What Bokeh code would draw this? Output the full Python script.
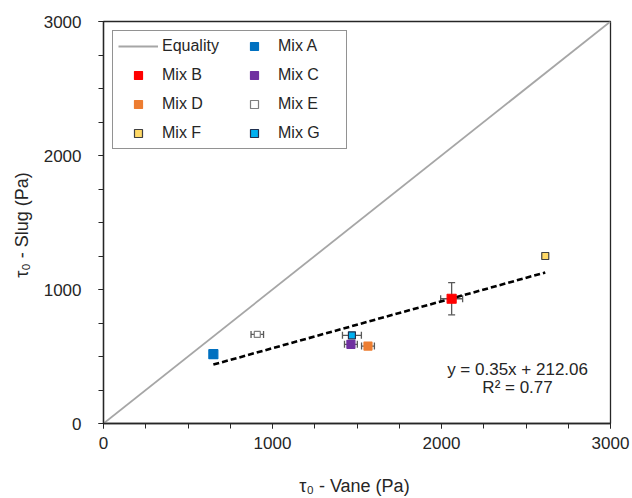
from bokeh.plotting import figure
from bokeh.models import (ColumnDataSource, Range1d, FixedTicker, Whisker, TeeHead,
                          Label, Legend, LegendItem)
from bokeh.embed import file_html
from bokeh.resources import INLINE

# ---- data ----
mixes = ["Mix A", "Mix B", "Mix C", "Mix D", "Mix E", "Mix F", "Mix G"]
vane = [650, 2060, 1464, 1565, 910, 2614, 1470]        # tau0 - Vane (Pa)
slug = [517, 931, 591, 578, 665, 1250, 658]            # tau0 - Slug (Pa)
vane_err = [0, 65, 38, 38, 37, 0, 56]
slug_err = [0, 120, 0, 0, 0, 0, 0]
trend_slope = 0.35
trend_intercept = 212.06
trend_r2 = 0.77
axis_ticks = [0, 1000, 2000, 3000]
axis_max = 3000

# ---- styles ----
fill_colors = ["#0070C0", "#FF0000", "#7030A0", "#ED7D31", "#FFFFFF", "#FFD966", "#00B0F0"]
line_colors = ["#0070C0", "#FF0000", "#7030A0", "#ED7D31", "#7F7F7F", "#404040", "#1F2F4F"]
marker_sizes = [9, 9, 8, 8, 6, 7, 7]

FONT = "Liberation Sans"
TXT = "#262626"

p = figure(width=632, height=498, output_backend="svg", toolbar_location=None,
           x_range=Range1d(0, axis_max), y_range=Range1d(0, axis_max),
           x_axis_label="τ₀  - Vane (Pa)", y_axis_label="τ₀  - Slug (Pa)")
p.min_border_left = 103
p.min_border_right = 22
p.min_border_top = 21
p.min_border_bottom = 72
p.grid.visible = False
p.outline_line_color = "#262626"
p.outline_line_width = 1.3
p.background_fill_color = "white"
p.border_fill_color = "white"

for ax in (p.xaxis[0], p.yaxis[0]):
    ax.ticker = FixedTicker(ticks=axis_ticks, minor_ticks=list(range(0, axis_max + 1, 250)))
    ax.major_tick_in = 0
    ax.major_tick_out = 5
    ax.minor_tick_in = 0
    ax.minor_tick_out = 5
    ax.axis_line_color = "#262626"
    ax.axis_line_width = 1.3
    ax.major_tick_line_color = "#262626"
    ax.minor_tick_line_color = "#262626"
    ax.major_label_text_font = FONT
    ax.major_label_text_font_size = "17px"
    ax.major_label_text_color = TXT
    ax.axis_label_text_font = FONT
    ax.axis_label_text_font_size = "18px"
    ax.axis_label_text_font_style = "normal"
    ax.axis_label_text_color = TXT
p.xaxis.major_label_standoff = 8
p.yaxis.major_label_standoff = 17
p.xaxis.axis_label_standoff = 24
p.yaxis.axis_label_standoff = 9

# equality line
eq = p.line([0, axis_max], [0, axis_max], line_color="#A6A6A6", line_width=1.8)

# trend line
x0, x1 = min(vane), max(vane)
p.line([x0, x1], [trend_slope * x0 + trend_intercept, trend_slope * x1 + trend_intercept],
       line_color="black", line_width=2.6, line_dash="6 3")

# error bars
xi = [i for i in range(len(mixes)) if vane_err[i] > 0]
xsrc = ColumnDataSource(dict(base=[slug[i] for i in xi],
                             lower=[vane[i] - vane_err[i] for i in xi],
                             upper=[vane[i] + vane_err[i] for i in xi]))
yi = [i for i in range(len(mixes)) if slug_err[i] > 0]
ysrc = ColumnDataSource(dict(base=[vane[i] for i in yi],
                             lower=[slug[i] - slug_err[i] for i in yi],
                             upper=[slug[i] + slug_err[i] for i in yi]))
for src, dim in ((xsrc, "width"), (ysrc, "height")):
    w = Whisker(source=src, base="base", lower="lower", upper="upper", dimension=dim,
                line_color="#595959", line_width=1.3,
                upper_head=TeeHead(size=7, line_color="#595959", line_width=1.3),
                lower_head=TeeHead(size=7, line_color="#595959", line_width=1.3))
    p.add_layout(w)

# markers
renderers = []
for i, m in enumerate(mixes):
    r = p.scatter([vane[i]], [slug[i]], marker="square", size=marker_sizes[i],
                  fill_color=fill_colors[i], line_color=line_colors[i], line_width=1.2)
    renderers.append(r)

items = [LegendItem(label="Equality", renderers=[eq])]
for m, r in zip(mixes, renderers):
    items.append(LegendItem(label=m, renderers=[r]))

legend = Legend(items=items, location="top_left", orientation="horizontal", ncols=2,
                label_text_font=FONT, label_text_font_size="16px", label_text_color=TXT,
                glyph_width=40, glyph_height=20, label_height=20, label_width=63,
                label_standoff=4, spacing=9, padding=5, margin=9,
                border_line_color="#262626", border_line_width=1.3,
                background_fill_alpha=1.0)
p.add_layout(legend)

# equation annotation
eq_x = 2450
p.add_layout(Label(x=eq_x, y=400, text="y = 0.35x + 212.06", text_align="center",
                   text_baseline="middle", text_font=FONT, text_font_size="17px",
                   text_color=TXT))
p.add_layout(Label(x=eq_x, y=266, text="R² = 0.77", text_align="center",
                   text_baseline="middle", text_font=FONT, text_font_size="17px",
                   text_color=TXT))

open("out.html", "w").write(file_html(p, INLINE))
